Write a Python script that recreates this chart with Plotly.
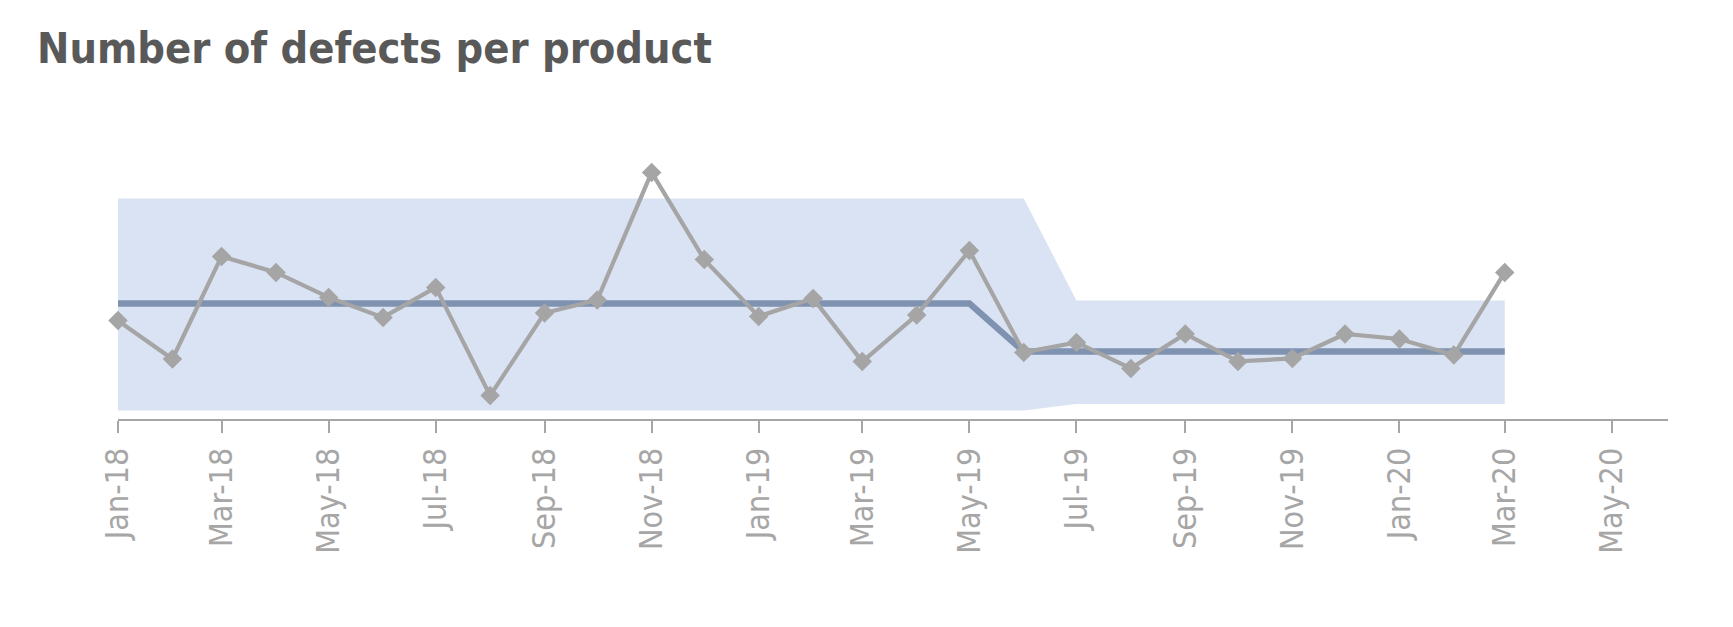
import plotly.graph_objects as go

months = ["2018-01-01", "2018-02-01", "2018-03-01", "2018-04-01", "2018-05-01", "2018-06-01",
          "2018-07-01", "2018-08-01", "2018-09-01", "2018-10-01", "2018-11-01", "2018-12-01",
          "2019-01-01", "2019-02-01", "2019-03-01", "2019-04-01", "2019-05-01", "2019-06-01",
          "2019-07-01", "2019-08-01", "2019-09-01", "2019-10-01", "2019-11-01", "2019-12-01",
          "2020-01-01", "2020-02-01", "2020-03-01"]

defects = [4.92, 3.00, 8.13, 7.33, 6.08, 5.08, 6.58, 1.17, 5.30, 5.95, 12.33, 7.97,
           5.13, 6.03, 2.87, 5.20, 8.42, 3.33, 3.83, 2.53, 4.25, 2.88, 3.03, 4.25,
           4.00, 3.20, 7.33]

center = [5.78] * 17 + [3.37] * 10
upper = [11.03] * 18 + [5.92] * 9
lower = [0.42] * 18 + [0.75] * 9

title_text = "Number of defects per product"
font_family = "Liberation Sans Narrow, DejaVu Sans Condensed, Liberation Sans, Arial, sans-serif"

fig = go.Figure()

fig.add_trace(go.Scatter(x=months, y=lower, mode="lines", line=dict(width=0, color="#DAE3F3"),
                         hoverinfo="skip", showlegend=False))
fig.add_trace(go.Scatter(x=months, y=upper, mode="lines", line=dict(width=0, color="#DAE3F3"),
                         fill="tonexty", fillcolor="#DAE3F3", hoverinfo="skip", showlegend=False))
fig.add_trace(go.Scatter(x=months, y=center, mode="lines", line=dict(width=6.5, color="#7F93B0"),
                         showlegend=False, cliponaxis=False))
fig.add_trace(go.Scatter(x=months, y=defects, mode="lines+markers",
                         line=dict(width=4.2, color="#A5A5A5"),
                         marker=dict(symbol="diamond", size=15, color="#A5A5A5"),
                         showlegend=False, cliponaxis=False))

fig.update_layout(
    width=1733, height=627,
    margin=dict(l=110, r=73, t=151, b=216),
    paper_bgcolor="white", plot_bgcolor="white",
    title=dict(text=title_text, x=29 / 1733, xanchor="left", xref="container",
               y=1 - 25 / 627, yanchor="top", yref="container",
               font=dict(family=font_family, size=43, color="#595959", weight="bold")),
    xaxis=dict(type="date", range=["2018-01-01", "2020-06-02"],
               tickmode="linear", tick0="2018-01-01", dtick="M2", tickformat="%b-%y",
               tickangle=-90, showgrid=False, zeroline=False,
               showline=True, linecolor="#A6A6A6", linewidth=2,
               ticks="outside", ticklen=12, tickwidth=2, tickcolor="#A6A6A6",
               ticklabelstandoff=2,
               tickfont=dict(family=font_family, size=32, color="#A6A6A6")),
    yaxis=dict(range=[0, 13], visible=False, showgrid=False, zeroline=False),
)

fig.write_html("out.html")
